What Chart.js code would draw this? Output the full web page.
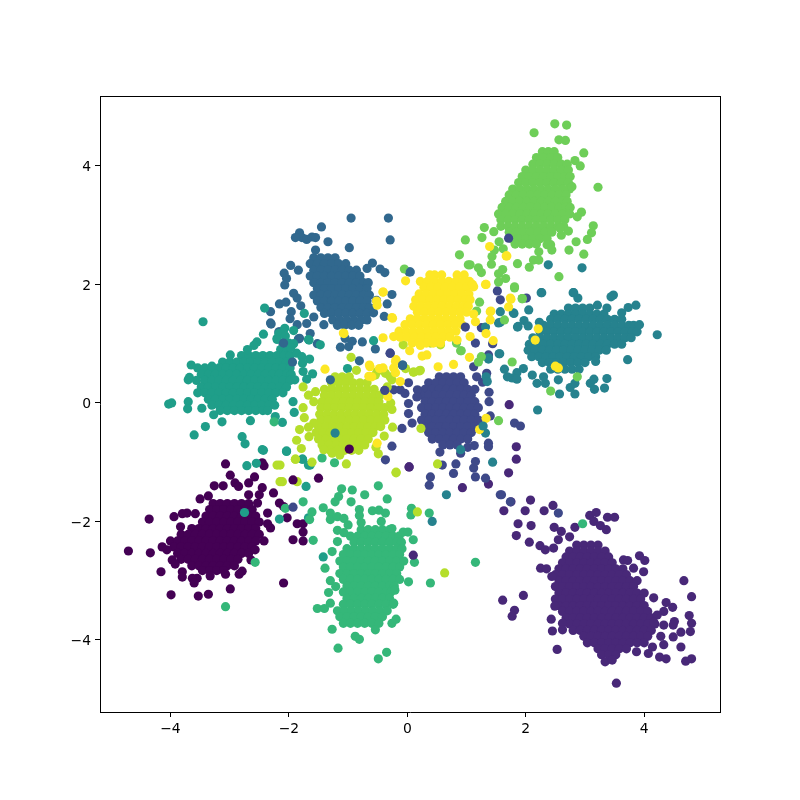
<!DOCTYPE html>
<html>
<head>
<meta charset="utf-8">
<script src="https://cdn.jsdelivr.net/npm/chart.js@4/dist/chart.umd.min.js"></script>
<style>
body { margin: 0; background: #fff; }
canvas { display: block; }
</style>
</head>
<body>
<canvas id="scatterChart" width="800" height="800"></canvas>
<script>
var categories = ['0', '1', '2', '3', '4', '5', '6', '7', '8', '9'];
var colors = ['#440154', '#482878', '#3e4989', '#31688e', '#26828e', '#1f9e89', '#35b779', '#6ece58', '#b5de2b', '#fde725'];
var xTicks = [-4, -2, 0, 2, 4];
var yTicks = [-4, -2, 0, 2, 4];

// dense middle of each cloud, one row per line: y first, then the x values on that row
var core0 = [
[-1.70,-3.28,-3.16,-3.04,-2.92,-2.80,-2.68],
[-1.80,-3.34,-3.22,-3.10,-2.98,-2.86,-2.74,-2.62],
[-1.91,-3.40,-3.28,-3.16,-3.04,-2.92,-2.80,-2.68,-2.56],
[-2.01,-3.46,-3.34,-3.22,-3.10,-2.98,-2.86,-2.74,-2.62,-2.50],
[-2.12,-3.64,-3.52,-3.40,-3.28,-3.16,-3.04,-2.92,-2.80,-2.68,-2.56],
[-2.22,-3.82,-3.70,-3.58,-3.46,-3.34,-3.22,-3.10,-2.98,-2.86,-2.74,-2.62,-2.50],
[-2.33,-4.00,-3.88,-3.76,-3.64,-3.52,-3.40,-3.28,-3.16,-3.04,-2.92,-2.80,-2.68,-2.56],
[-2.43,-3.94,-3.82,-3.70,-3.58,-3.46,-3.34,-3.22,-3.10,-2.98,-2.86,-2.74,-2.62],
[-2.54,-3.88,-3.76,-3.64,-3.52,-3.40,-3.28,-3.16,-3.04,-2.92,-2.80,-2.68],
[-2.64,-3.82,-3.70,-3.58,-3.46,-3.34,-3.22,-3.10,-2.98,-2.86],
[-2.75,-3.64,-3.52,-3.40,-3.28,-3.16,-3.04,-2.92],
[-2.83,-3.46,-3.34,-3.22,-3.10]
];
var outer0 = [[-4.71,-2.50],[-4.34,-2.53],[-4.36,-1.96],[-4.16,-2.85],[-3.99,-3.24],[-3.53,-3.26],[-3.36,-3.23],[-2.99,-3.14],[-2.09,-3.04],[-3.07,-1.03],[-2.99,-1.22],[-2.42,-1.06],[-2.45,-1.01],[-2.58,-1.25],[-2.68,-1.35],[-2.91,-1.35],[-2.85,-1.41],[-3.26,-1.40],[-3.11,-1.40],[-3.50,-1.62],[-3.36,-1.57],[-3.94,-1.92],[-3.80,-1.87],[-3.72,-1.86],[-3.58,-1.87],[-3.83,-2.09],[-2.45,-1.43],[-2.26,-1.52],[-2.16,-1.69],[-2.09,-1.75],[-2.03,-1.94],[-1.86,-2.04],[-1.76,-2.04],[-1.76,-2.18],[-1.93,-2.31],[-1.76,-2.33],[-2.31,-2.11],[-2.36,-2.04],[-2.42,-2.33],[-2.57,-2.48],[-2.64,-2.65],[-2.79,-2.84],[-2.84,-2.89],[-3.07,-2.89],[-3.33,-2.92],[-3.55,-2.96],[-3.63,-2.96],[-3.60,-3.04],[-3.80,-2.85],[-3.80,-2.94],[-4.14,-2.43],[-4.06,-2.48],[-3.97,-2.65],[-3.92,-2.72],[-2.36,-1.86],[-2.53,-1.69],[-2.68,-1.55],[-2.50,-1.55]];

var core1 = [
[-2.40,2.86,2.98,3.10,3.22],
[-2.50,2.74,2.86,2.98,3.10,3.22,3.34],
[-2.60,2.68,2.80,2.92,3.04,3.16,3.28,3.40],
[-2.70,2.62,2.74,2.86,2.98,3.10,3.22,3.34,3.46],
[-2.80,2.56,2.68,2.80,2.92,3.04,3.16,3.28,3.40,3.52,3.64],
[-2.90,2.50,2.62,2.74,2.86,2.98,3.10,3.22,3.34,3.46,3.58,3.70],
[-3.00,2.56,2.68,2.80,2.92,3.04,3.16,3.28,3.40,3.52,3.64,3.76,3.88],
[-3.10,2.50,2.62,2.74,2.86,2.98,3.10,3.22,3.34,3.46,3.58,3.70,3.82],
[-3.21,2.56,2.68,2.80,2.92,3.04,3.16,3.28,3.40,3.52,3.64,3.76,3.88,4.00],
[-3.31,2.50,2.62,2.74,2.86,2.98,3.10,3.22,3.34,3.46,3.58,3.70,3.82,3.94],
[-3.42,2.56,2.68,2.80,2.92,3.04,3.16,3.28,3.40,3.52,3.64,3.76,3.88,4.00],
[-3.52,2.62,2.74,2.86,2.98,3.10,3.22,3.34,3.46,3.58,3.70,3.82,3.94,4.06],
[-3.63,2.68,2.80,2.92,3.04,3.16,3.28,3.40,3.52,3.64,3.76,3.88,4.00,4.12],
[-3.73,2.74,2.86,2.98,3.10,3.22,3.34,3.46,3.58,3.70,3.82,3.94,4.06,4.18],
[-3.84,2.80,2.92,3.04,3.16,3.28,3.40,3.52,3.64,3.76,3.88,4.00,4.12],
[-3.94,2.98,3.10,3.22,3.34,3.46,3.58,3.70,3.82,3.94,4.06],
[-4.05,3.04,3.16,3.28,3.40,3.52,3.64,3.76,3.88,4.00],
[-4.15,3.22,3.34,3.46,3.58,3.70],
[-4.25,3.28,3.40,3.52]
];
var outer1 = [[1.75,-1.67],[2.08,-1.64],[1.63,-1.82],[1.99,-1.82],[2.31,-1.82],[2.46,-1.73],[1.87,-2.04],[2.09,-2.07],[1.84,-2.24],[2.06,-2.35],[2.24,-2.41],[2.33,-2.48],[2.47,-2.45],[2.48,-2.10],[2.60,-2.17],[2.74,-2.26],[2.55,-2.31],[2.83,-2.10],[3.08,-1.90],[3.19,-1.85],[3.38,-1.93],[3.50,-1.93],[3.15,-2.00],[3.26,-2.07],[3.36,-2.14],[2.25,-2.79],[2.35,-2.80],[2.44,-2.93],[1.61,-3.33],[1.96,-3.25],[1.81,-3.50],[1.77,-3.60],[2.49,-3.43],[2.43,-3.65],[2.62,-3.72],[2.45,-3.85],[2.62,-3.83],[2.53,-4.16],[3.53,-4.73],[3.34,-4.37],[3.46,-4.34],[3.92,-2.58],[4.01,-2.66],[3.65,-2.65],[3.72,-2.66],[3.82,-2.79],[3.99,-2.85],[4.67,-3.00],[4.80,-3.27],[4.16,-3.29],[4.37,-3.37],[4.48,-3.45],[4.76,-3.59],[4.80,-3.72],[4.78,-3.86],[4.62,-3.87],[4.51,-3.69],[4.49,-3.75],[4.49,-3.95],[4.33,-3.52],[4.22,-3.58],[4.16,-3.70],[4.33,-3.75],[4.28,-3.94],[4.33,-4.08],[4.62,-4.12],[4.14,-4.12],[4.07,-4.23],[3.87,-4.20],[4.26,-4.29],[4.37,-4.32],[4.70,-4.36],[4.80,-4.32],[0.03,-1.08],[0.93,-1.43],[1.37,-1.37],[1.71,-1.18],[1.84,-0.74],[1.84,-0.95],[1.72,-0.03]];

var core2 = [
[0.44,0.54,0.66,0.78,0.90],
[0.34,0.36,0.48,0.60,0.72,0.84,0.96],
[0.23,0.30,0.42,0.54,0.66,0.78,0.90,1.02,1.14],
[0.13,0.24,0.36,0.48,0.60,0.72,0.84,0.96,1.08],
[0.02,0.30,0.42,0.54,0.66,0.78,0.90,1.02,1.14],
[-0.08,0.24,0.36,0.48,0.60,0.72,0.84,0.96,1.08,1.20],
[-0.19,0.30,0.42,0.54,0.66,0.78,0.90,1.02,1.14],
[-0.29,0.24,0.36,0.48,0.60,0.72,0.84,0.96,1.08,1.20],
[-0.40,0.30,0.42,0.54,0.66,0.78,0.90,1.02,1.14],
[-0.50,0.36,0.48,0.60,0.72,0.84,0.96,1.08],
[-0.61,0.42,0.54,0.66,0.78,0.90,1.02],
[-0.71,0.60,0.72,0.84]
];
var outer2 = [[-0.29,0.84],[-0.09,-0.43],[-0.26,-0.73],[-0.37,-0.96],[0.59,-1.05],[0.78,-1.19],[0.82,-1.03],[1.12,-1.10],[1.15,-0.99],[1.15,-1.25],[1.32,-1.27],[0.39,-1.25],[0.37,-1.39],[1.37,-0.68],[1.37,-0.74],[1.40,-0.22],[1.38,0.18],[1.38,0.02],[1.81,-0.34],[1.91,-0.39],[1.57,-1.55],[1.74,-1.67],[0.02,0.34],[-0.12,0.22],[-0.04,0.16],[-0.23,0.22],[-0.38,0.21],[0.17,0.22],[0.16,0.10],[0.02,-0.01],[0.02,-0.18],[0.08,-0.34],[1.12,0.61],[1.37,0.81],[1.17,0.44],[1.34,0.50],[1.27,0.35],[1.52,1.89],[1.57,1.74],[2.01,1.77],[1.25,1.27],[1.15,1.01],[1.44,1.00],[0.55,-0.83],[0.90,-0.85],[1.02,-0.75],[1.13,-0.72]];

var core3 = [
[2.45,-1.58,-1.46,-1.34,-1.22],
[2.35,-1.64,-1.52,-1.40,-1.28,-1.16,-1.04],
[2.24,-1.58,-1.46,-1.34,-1.22,-1.10,-0.98,-0.86],
[2.14,-1.64,-1.52,-1.40,-1.28,-1.16,-1.04,-0.92,-0.80],
[2.03,-1.58,-1.46,-1.34,-1.22,-1.10,-0.98,-0.86,-0.74,-0.66],
[1.93,-1.52,-1.40,-1.28,-1.16,-1.04,-0.92,-0.80,-0.68],
[1.82,-1.58,-1.46,-1.34,-1.22,-1.10,-0.98,-0.86,-0.74,-0.64],
[1.72,-1.52,-1.40,-1.28,-1.16,-1.04,-0.92,-0.80,-0.68],
[1.61,-1.46,-1.34,-1.22,-1.10,-0.98,-0.86,-0.74,-0.64],
[1.51,-1.40,-1.28,-1.16,-1.04,-0.92,-0.80,-0.68],
[1.40,-1.26,-1.14,-1.02,-0.90,-0.78,-0.68],
[1.31,-1.18,-1.06,-0.94,-0.82]
];
var outer3 = [[-0.95,3.12],[-0.32,3.12],[-1.45,2.97],[-0.29,2.75],[-1.82,2.87],[-1.78,2.79],[-1.70,2.76],[-1.61,2.80],[-1.55,2.79],[-1.89,2.79],[-1.34,2.72],[-0.98,2.62],[-1.55,2.58],[-1.97,2.32],[-1.84,2.24],[-2.08,2.19],[-2.04,2.10],[-2.07,1.99],[-0.59,2.36],[-0.68,2.27],[-0.46,2.26],[-0.38,2.20],[0.03,2.21],[-0.26,1.83],[-0.52,1.73],[-0.34,1.67],[-0.39,1.46],[-0.57,1.52],[-1.92,1.85],[-1.86,1.77],[-1.80,1.64],[-2.16,1.67],[-2.05,1.70],[-2.31,1.54],[-1.96,1.54],[-1.98,1.42],[-2.30,1.33],[-1.86,1.32],[-1.70,1.34],[-1.58,1.45],[-1.41,1.32],[-1.64,1.17],[-1.82,1.09],[-1.52,1.00],[-1.05,1.09],[-0.93,1.04],[-1.13,0.94],[-0.99,0.95],[-0.76,1.03],[-0.54,0.91],[-0.81,0.71],[-0.08,0.64],[-2.17,1.20],[-1.95,0.68],[-2.10,1.00],[-2.31,1.35],[-1.84,1.08],[-2.15,1.20]];

var core4 = [
[1.60,2.72,2.84,2.96,3.08],
[1.50,2.48,2.60,2.72,2.84,2.96,3.08,3.20,3.32],
[1.41,2.42,2.54,2.66,2.78,2.90,3.02,3.14,3.26,3.38,3.50,3.62],
[1.31,2.30,2.42,2.54,2.66,2.78,2.90,3.02,3.14,3.26,3.38,3.50,3.62,3.74,3.82],
[1.20,2.24,2.36,2.48,2.60,2.72,2.84,2.96,3.08,3.20,3.32,3.44,3.56,3.68,3.80,3.88],
[1.10,2.12,2.24,2.36,2.48,2.60,2.72,2.84,2.96,3.08,3.20,3.32,3.44,3.56,3.68,3.78],
[0.99,2.06,2.18,2.30,2.42,2.54,2.66,2.78,2.90,3.02,3.14,3.26,3.38,3.50,3.62],
[0.89,2.04,2.16,2.28,2.40,2.52,2.64,2.76,2.88,3.00,3.12,3.24,3.36],
[0.78,2.10,2.22,2.34,2.46,2.58,2.70,2.82,2.94,3.06,3.18],
[0.68,2.28,2.40,2.52,2.64,2.76,2.88,3.00],
[0.57,2.42,2.54,2.66,2.78,2.90]
];
var outer4 = [[4.22,1.15],[3.72,0.73],[2.26,1.86],[2.81,1.86],[2.88,1.77],[3.48,1.82],[3.44,1.79],[3.73,1.61],[3.86,1.65],[3.21,1.65],[3.37,1.60],[2.05,1.57],[1.80,1.51],[1.57,1.54],[1.57,1.36],[1.87,1.29],[1.97,1.39],[2.04,1.30],[2.23,1.36],[1.56,0.83],[1.64,0.57],[1.85,0.51],[1.77,0.42],[1.85,0.40],[1.96,0.58],[2.11,0.47],[2.19,0.33],[2.33,0.33],[2.30,0.44],[2.55,0.39],[2.75,0.26],[2.83,0.33],[2.83,0.15],[2.57,0.15],[3.09,0.33],[3.16,0.23],[3.15,0.40],[3.37,0.41],[3.33,0.25],[3.18,0.70],[2.20,-0.12],[2.38,2.33],[2.95,2.28],[2.27,1.86],[2.80,1.86],[1.79,1.52],[1.54,1.35],[1.86,1.28],[1.55,0.83],[1.37,0.74],[1.33,0.44],[1.32,1.28],[1.44,-1.00],[0.66,-1.55],[1.32,-0.51],[1.37,0.76],[1.35,0.36],[1.69,0.44],[3.92,1.32],[3.62,1.52]];

var core5 = [
[0.90,-2.14,-2.04],
[0.80,-2.80,-2.68,-2.56,-2.44,-2.32,-2.20,-2.08,-1.98],
[0.69,-3.12,-3.00,-2.88,-2.76,-2.64,-2.52,-2.40,-2.28,-2.16,-2.04,-1.96],
[0.59,-3.54,-3.42,-3.30,-3.18,-3.06,-2.94,-2.82,-2.70,-2.58,-2.46,-2.34,-2.22,-2.10,-1.98],
[0.48,-3.48,-3.36,-3.24,-3.12,-3.00,-2.88,-2.76,-2.64,-2.52,-2.40,-2.28,-2.16,-2.04,-1.96],
[0.38,-3.56,-3.42,-3.30,-3.18,-3.06,-2.94,-2.82,-2.70,-2.58,-2.46,-2.34,-2.22,-2.10,-1.98],
[0.27,-3.48,-3.36,-3.24,-3.12,-3.00,-2.88,-2.76,-2.64,-2.52,-2.40,-2.28,-2.16,-2.04],
[0.17,-3.54,-3.42,-3.30,-3.18,-3.06,-2.94,-2.82,-2.70,-2.58,-2.46,-2.34,-2.22,-2.10],
[0.06,-3.36,-3.24,-3.12,-3.00,-2.88,-2.76,-2.64,-2.52,-2.40,-2.28],
[-0.04,-3.30,-3.18,-3.06,-2.94,-2.82,-2.70,-2.58,-2.46,-2.34,-2.24],
[-0.13,-3.16,-3.04,-2.92,-2.80,-2.68,-2.56,-2.44,-2.36]
];
var outer5 = [[-3.45,1.37],[-2.41,1.60],[-1.74,1.51],[-3.65,0.64],[-3.70,0.39],[-3.68,0.43],[-4.03,-0.02],[-3.98,0.00],[-3.70,0.02],[-3.71,-0.10],[-3.47,-0.09],[-3.27,-0.20],[-3.13,-0.32],[-2.65,-0.30],[-3.41,-0.40],[-3.60,-0.54],[-2.79,-0.57],[-2.74,-0.69],[-2.43,-0.80],[-2.04,-0.82],[-1.77,-0.95],[-1.64,-1.05],[-2.11,-0.33],[-2.23,-0.23],[-1.91,-0.16],[-1.93,0.02],[-2.43,1.16],[-2.54,1.03],[-2.59,0.97],[-2.20,1.09],[-2.17,1.17],[-2.07,1.26],[-1.92,1.22],[-2.00,1.01],[-1.87,0.84],[-1.78,0.78],[-1.65,0.74],[-1.77,0.67],[-1.76,0.53],[-1.60,0.49],[-1.70,0.40],[-1.90,0.39],[-1.47,0.98],[-1.67,1.07],[-1.01,0.58],[-2.06,1.13],[-1.92,1.00],[-2.20,1.07],[-1.97,0.93],[-1.66,1.06],[-2.45,-0.79],[-2.71,-1.06],[-2.55,-1.02],[-2.04,-0.81],[-1.77,-0.95],[-1.67,-1.05],[-2.16,-1.96],[-1.67,-1.94],[-2.99,0.81],[-2.70,0.90],[-3.30,0.62]];

var core6 = [
[-2.14,-0.78,-0.66,-0.54,-0.42,-0.30],
[-2.25,-0.96,-0.84,-0.72,-0.60,-0.48,-0.36,-0.24,-0.14],
[-2.35,-0.90,-0.78,-0.66,-0.54,-0.42,-0.30,-0.18,-0.10],
[-2.46,-1.02,-0.90,-0.78,-0.66,-0.54,-0.42,-0.30,-0.18,-0.09],
[-2.56,-1.08,-0.96,-0.84,-0.72,-0.60,-0.48,-0.36,-0.24,-0.13],
[-2.67,-1.14,-1.02,-0.90,-0.78,-0.66,-0.54,-0.42,-0.30,-0.18],
[-2.77,-1.08,-0.96,-0.84,-0.72,-0.60,-0.48,-0.36,-0.24,-0.13],
[-2.88,-1.14,-1.02,-0.90,-0.78,-0.66,-0.54,-0.42,-0.30,-0.18],
[-2.98,-1.08,-0.96,-0.84,-0.72,-0.60,-0.48,-0.36,-0.24,-0.13],
[-3.09,-1.02,-0.90,-0.78,-0.66,-0.54,-0.42,-0.30,-0.22],
[-3.19,-1.08,-0.96,-0.84,-0.72,-0.60,-0.48,-0.36,-0.28],
[-3.30,-1.02,-0.90,-0.78,-0.66,-0.54,-0.42,-0.30],
[-3.40,-1.08,-0.96,-0.84,-0.72,-0.60,-0.48,-0.36,-0.24],
[-3.51,-1.18,-1.06,-0.94,-0.82,-0.70,-0.58,-0.46,-0.34],
[-3.61,-1.14,-1.02,-0.90,-0.78,-0.66,-0.54,-0.42],
[-3.72,-1.08,-0.96,-0.84,-0.72,-0.60,-0.48]
];
var outer6 = [[-0.49,-1.40],[-1.11,-1.45],[-0.93,-1.47],[-0.72,-1.55],[-0.34,-1.62],[-1.16,-1.58],[-1.22,-1.67],[-0.95,-1.67],[-1.42,-1.77],[-1.61,-1.84],[-1.65,-1.97],[-1.30,-1.86],[-1.30,-1.97],[-1.18,-1.92],[-1.07,-1.95],[-1.00,-2.06],[-0.81,-1.80],[-0.59,-1.82],[-0.48,-1.81],[-0.37,-1.86],[-0.44,-2.00],[-0.26,-2.12],[0.07,-1.78],[0.06,-1.89],[0.37,-1.86],[-0.07,-2.18],[0.01,-2.18],[0.10,-2.31],[0.12,-2.69],[-0.06,-2.67],[0.02,-3.02],[0.39,-3.04],[1.15,-2.69],[-0.21,-3.16],[-1.18,-2.15],[-1.07,-2.19],[-1.18,-2.34],[-1.27,-2.51],[-1.59,-2.32],[-1.39,-2.79],[-1.30,-3.00],[-1.21,-3.10],[-1.33,-3.20],[-1.52,-3.47],[-1.40,-3.47],[-1.30,-3.38],[-1.27,-3.82],[-0.88,-3.94],[-0.81,-3.99],[-1.17,-4.14],[-0.35,-4.21],[-0.49,-4.32],[-0.54,-3.83],[-0.26,-3.72],[-0.19,-3.65],[-0.23,-3.38],[-0.81,-1.90],[-0.78,-2.02],[-3.07,-3.44],[-2.57,-2.69],[-1.76,-1.67],[-2.06,-1.78],[-1.44,-0.93],[-1.23,-1.01],[-2.25,-0.32]];

var core7 = [
[4.24,2.28,2.38,2.48],
[4.14,2.18,2.30,2.42,2.54],
[4.03,2.12,2.24,2.36,2.48,2.60,2.70],
[3.93,2.00,2.12,2.24,2.36,2.48,2.60,2.72],
[3.82,1.94,2.06,2.18,2.30,2.42,2.54,2.66,2.75],
[3.72,1.88,2.00,2.12,2.24,2.36,2.48,2.60,2.72],
[3.61,1.78,1.90,2.02,2.14,2.26,2.38,2.50,2.62,2.74],
[3.51,1.72,1.84,1.96,2.08,2.20,2.32,2.44,2.56,2.68],
[3.40,1.66,1.78,1.90,2.02,2.14,2.26,2.38,2.50,2.62,2.70],
[3.30,1.60,1.72,1.84,1.96,2.08,2.20,2.32,2.44,2.56,2.68,2.75],
[3.19,1.54,1.66,1.78,1.90,2.02,2.14,2.26,2.38,2.50,2.62,2.74],
[3.09,1.58,1.70,1.82,1.94,2.06,2.18,2.30,2.42,2.54,2.66],
[2.98,1.58,1.70,1.82,1.94,2.06,2.18,2.30,2.42,2.54,2.64],
[2.88,1.72,1.84,1.96,2.08,2.20,2.32,2.44],
[2.77,1.76,1.88,2.00,2.12,2.24,2.36],
[2.68,1.82,1.94,2.06,2.18]
];
var outer7 = [[2.49,4.71],[2.69,4.69],[2.14,4.56],[2.56,4.44],[2.67,4.43],[2.98,4.22],[2.83,4.09],[2.92,4.00],[3.22,3.64],[2.78,3.65],[2.94,3.22],[2.87,3.14],[3.14,2.99],[3.11,2.87],[3.04,2.76],[2.85,2.72],[2.73,2.58],[2.98,2.51],[2.42,2.67],[2.36,2.67],[2.44,2.58],[2.22,2.55],[2.13,2.41],[2.22,2.41],[2.06,2.29],[1.86,2.35],[2.56,2.13],[1.81,1.94],[1.94,1.76],[1.30,2.96],[1.26,2.79],[1.46,2.89],[1.42,2.34],[1.47,2.58],[1.43,2.47],[1.20,2.28],[1.25,2.20],[1.54,2.18],[1.61,2.25],[1.54,2.04],[1.66,2.10],[1.06,2.33],[2.60,2.83],[2.72,2.90],[2.58,2.95],[0.98,2.75],[0.88,2.50],[1.03,2.33],[-0.05,2.26],[1.64,1.40],[1.17,1.55],[0.83,1.01],[0.91,0.88],[1.20,0.69],[1.25,0.78],[0.90,0.88],[1.55,2.72],[1.62,2.60]];

var core8 = [
[0.44,-1.22,-1.10,-0.98],
[0.34,-1.28,-1.16,-1.04,-0.92,-0.80,-0.68],
[0.23,-1.40,-1.28,-1.16,-1.04,-0.92,-0.80,-0.68,-0.56],
[0.13,-1.40,-1.28,-1.16,-1.04,-0.92,-0.80,-0.68,-0.56,-0.46],
[0.02,-1.44,-1.32,-1.20,-1.08,-0.96,-0.84,-0.72,-0.60,-0.48],
[-0.08,-1.46,-1.34,-1.22,-1.10,-0.98,-0.86,-0.74,-0.62,-0.50,-0.38],
[-0.19,-1.48,-1.36,-1.24,-1.12,-1.00,-0.88,-0.76,-0.64,-0.52,-0.40],
[-0.29,-1.46,-1.34,-1.22,-1.10,-0.98,-0.86,-0.74,-0.62,-0.50,-0.38],
[-0.40,-1.50,-1.38,-1.26,-1.14,-1.02,-0.90,-0.78,-0.66,-0.54,-0.45],
[-0.50,-1.54,-1.42,-1.30,-1.18,-1.06,-0.94,-0.82,-0.70,-0.58],
[-0.61,-1.50,-1.38,-1.26,-1.14,-1.02,-0.90,-0.78,-0.66],
[-0.71,-1.44,-1.32,-1.20,-1.08,-0.96,-0.84,-0.72],
[-0.80,-1.30,-1.18,-1.06,-0.94,-0.82]
];
var outer8 = [[-1.76,0.27],[-1.67,0.13],[-1.55,0.19],[-1.58,0.02],[-1.76,-0.08],[-1.74,-0.25],[-1.58,-0.34],[-1.67,-0.41],[-1.66,-0.57],[-1.82,-0.45],[-1.87,-0.63],[-1.79,-0.77],[-1.89,-0.95],[-1.61,-1.00],[-1.03,-1.03],[-1.14,-0.88],[-1.27,-0.85],[-1.41,-0.79],[-0.53,-0.75],[-0.49,-0.86],[-0.39,-0.56],[-0.25,-0.41],[-0.19,-1.17],[0.51,-1.03],[-0.26,-0.11],[-0.28,0.00],[-0.95,0.77],[-0.86,0.55],[-0.51,0.53],[-0.37,0.50],[-0.03,0.58],[0.11,0.52],[0.22,0.55],[-0.34,0.27],[-0.26,0.39],[-2.15,-1.05],[-2.11,-1.33],[-2.20,-1.05],[-2.15,-1.33],[-1.89,-0.95],[-1.86,-1.33],[-0.19,-1.18],[0.63,-2.87],[0.10,0.52],[0.20,0.54],[0.39,1.01],[-0.07,0.98],[0.56,0.98],[-0.29,0.44],[-0.54,0.47]];

var core9 = [
[2.16,0.46,0.58,0.84,0.96],
[2.05,0.22,0.34,0.46,0.58,0.70,0.82,0.94,1.05],
[1.95,0.28,0.40,0.52,0.64,0.76,0.88,1.00],
[1.84,0.20,0.32,0.44,0.56,0.68,0.80,0.92,1.04],
[1.74,0.14,0.26,0.38,0.50,0.62,0.74,0.86,0.98,1.06],
[1.63,0.11,0.23,0.35,0.47,0.59,0.71,0.83,0.95,1.03],
[1.53,0.17,0.29,0.41,0.53,0.65,0.77,0.89,1.00],
[1.42,0.05,0.17,0.29,0.41,0.53,0.65,0.77,0.89],
[1.32,-0.04,0.08,0.20,0.32,0.44,0.56,0.68,0.80,0.92],
[1.21,-0.14,-0.02,0.10,0.22,0.34,0.46,0.58,0.70,0.82],
[1.11,-0.12,0.00,0.12,0.24,0.36,0.48,0.60,0.72],
[1.01,0.08,0.20,0.32,0.44,0.56]
];
var outer9 = [[-0.03,2.06],[-0.41,1.87],[0.38,2.16],[1.33,2.00],[1.12,1.96],[1.39,2.64],[1.68,2.48],[1.75,1.75],[1.71,1.62],[1.41,1.55],[1.12,1.50],[1.15,1.37],[1.06,1.12],[1.33,1.17],[1.45,1.05],[0.84,1.06],[-0.25,1.43],[-0.52,1.72],[-0.41,1.10],[-0.23,1.12],[0.22,0.97],[0.04,0.88],[0.25,0.79],[0.33,0.81],[0.52,0.61],[0.78,0.65],[1.05,0.77],[-0.19,0.73],[-0.23,0.59],[-0.41,0.59],[-0.63,0.61],[-0.60,0.44],[-0.20,0.51],[-1.39,0.57],[-0.64,0.64],[-0.47,0.58],[-0.65,0.45],[-0.20,0.70],[-0.12,0.36],[-0.33,0.11],[1.22,-0.45],[-0.51,-0.68],[-0.41,1.87],[-0.51,1.65],[-0.26,1.44],[-1.07,1.17],[-1.08,1.18],[1.32,2.00],[1.74,1.77],[1.10,2.00],[1.40,1.54],[1.40,1.40],[2.21,1.25],[2.55,0.59],[2.16,1.06],[2.50,0.62]];

// points that sit on top of a cloud of another colour: category, x, y
var onTop = [[5,-2.75,-1.85],[2,-1.93,-1.76],[0,-0.98,-0.78],[4,-1.22,-0.51],[5,-0.57,1.05],[3,-1.94,0.69],[3,-2.09,1.01],[3,-1.30,0.39],[2,1.71,2.78],[9,1.67,2.48],[3,0.05,2.21],[6,2.96,-2.04],[2,2.55,-1.86],[2,1.59,-1.55],[4,0.90,-0.79],[1,0.03,-1.08],[4,0.42,-2.00],[9,1.33,-0.26],[4,1.28,-0.39],[8,0.23,-0.43],[7,1.54,-0.30],[1,0.10,-2.57],[8,0.17,-1.84],[5,-1.42,-2.60],[5,-1.71,-1.41],[0,-1.93,-1.30],[0,-1.50,-1.27],[7,1.22,1.70],[2,0.98,1.28],[7,1.77,0.69],[2,-0.29,0.84],[3,-0.08,0.64],[7,2.87,0.44],[7,2.42,0.20],[2,-0.38,0.21],[3,-0.08,0.63],[7,1.81,1.96],[7,1.94,1.76]];

var cores = [core0, core1, core2, core3, core4, core5, core6, core7, core8, core9];
var outers = [outer0, outer1, outer2, outer3, outer4, outer5, outer6, outer7, outer8, outer9];

function toPoints(core, outer) {
    var points = [];
    core.forEach(function(row) {
        row.slice(1).forEach(function(x) {
            points.push({ x: x, y: row[0] });
        });
    });
    outer.forEach(function(p) {
        points.push({ x: p[0], y: p[1] });
    });
    return points;
}

var datasets = categories.map(function(name, i) {
    return {
        label: name,
        data: toPoints(cores[i], outers[i]),
        backgroundColor: colors[i],
        pointRadius: 4.6,
        pointBorderWidth: 0,
        order: 10 - i
    };
});

datasets.push({
    label: 'on top',
    data: onTop.map(function(p) { return { x: p[1], y: p[2] }; }),
    backgroundColor: onTop.map(function(p) { return colors[p[0]]; }),
    pointRadius: 4.6,
    pointBorderWidth: 0,
    order: 0
});

// top and right spines, the left and bottom ones come from the axes
var frame = {
    id: 'frame',
    afterDraw: function(chart) {
        var a = chart.chartArea;
        var c = chart.ctx;
        c.save();
        c.fillStyle = '#000';
        c.fillRect(a.left, a.top, a.right - a.left + 1, 1);
        c.fillRect(a.right, a.top, 1, a.bottom - a.top + 1);
        c.restore();
    }
};

function minusLabel(value) {
    return String(value).replace('-', '\u2212');
}

function axis(min, max, ticks) {
    return {
        type: 'linear',
        min: min,
        max: max,
        afterBuildTicks: function(scale) {
            scale.ticks = ticks.map(function(v) { return { value: v }; });
        },
        grid: { drawOnChartArea: false, color: '#000', tickColor: '#000', tickLength: 5, tickWidth: 1 },
        border: { color: '#000', width: 1 },
        ticks: {
            color: '#000',
            padding: 4,
            autoSkip: false,
            maxRotation: 0,
            font: { family: '"DejaVu Sans"', size: 13.9 },
            callback: minusLabel
        }
    };
}

var xAxis = axis(-5.19, 5.28, xTicks);
xAxis.afterFit = function(scale) { scale.height = 88; };
var yAxis = axis(-5.217, 5.18, yTicks);
yAxis.afterFit = function(scale) { scale.width = 100; };
yAxis.ticks.labelOffset = 1.5;

new Chart(document.getElementById('scatterChart').getContext('2d'), {
    type: 'scatter',
    data: { datasets: datasets },
    options: {
        responsive: false,
        animation: false,
        devicePixelRatio: 1,
        layout: { padding: { top: 96, right: 80, left: 0, bottom: 0 } },
        scales: { x: xAxis, y: yAxis },
        plugins: { legend: { display: false }, tooltip: { enabled: false } }
    },
    plugins: [frame]
});
</script>
</body>
</html>
